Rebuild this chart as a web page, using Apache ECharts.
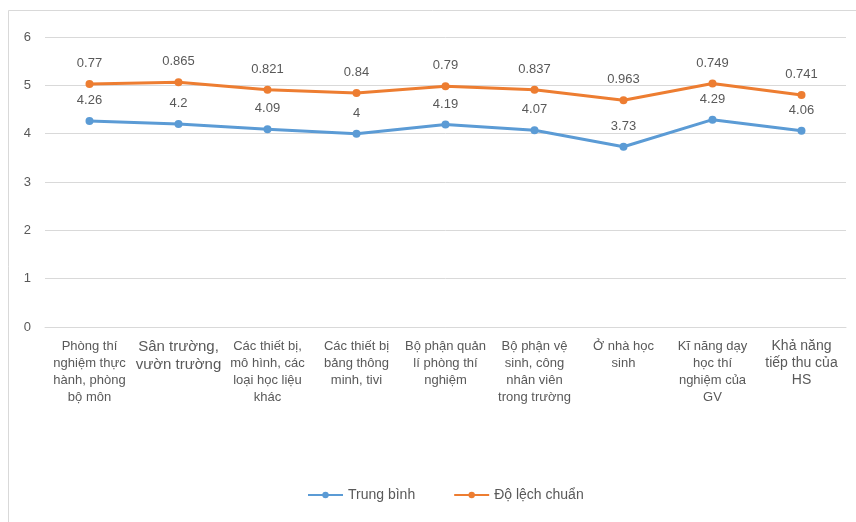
<!DOCTYPE html>
<html>
<head>
<meta charset="utf-8">
<script src="https://cdn.jsdelivr.net/npm/echarts@6/dist/echarts.min.js"></script>
<style>
  html, body { margin: 0; padding: 0; background: #fff; }
  #chart { width: 856px; height: 522px; }
</style>
</head>
<body>
<div id="chart"></div>
<script>
// Categories (with the line breaks used on the axis)
const categories = [
  'Phòng thí\nnghiệm thực\nhành, phòng\nbộ môn',
  'Sân trường,\nvườn trường',
  'Các thiết bị,\nmô hình, các\nloại học liệu\nkhác',
  'Các thiết bị\nbảng thông\nminh, tivi',
  'Bộ phận quản\nlí phòng thí\nnghiệm',
  'Bộ phận vệ\nsinh, công\nnhân viên\ntrong trường',
  'Ở nhà học\nsinh',
  'Kĩ năng dạy\nhọc thí\nnghiệm của\nGV',
  'Khả năng\ntiếp thu của\nHS'
];
// Mean scores
const trungBinh = [4.26, 4.2, 4.09, 4, 4.19, 4.07, 3.73, 4.29, 4.06];
// Standard deviations (stacked on top of the mean)
const doLechChuan = [0.77, 0.865, 0.821, 0.84, 0.79, 0.837, 0.963, 0.749, 0.741];
// Value-axis ticks
const yTicks = [0, 1, 2, 3, 4, 5, 6];

const FONT = '"Liberation Sans", Arial, sans-serif';
const TXT = '#595959';

const chart = echarts.init(document.getElementById('chart'), null, { renderer: 'canvas' });

const labelStyle = { show: true, position: 'top', distance: 10, color: TXT, fontSize: 13, fontFamily: FONT };

chart.setOption({
  backgroundColor: '#fff',
  animation: false,
  graphic: [{
    type: 'rect',
    shape: { x: 8.5, y: 10.5, width: 900, height: 600 },
    style: { fill: 'none', stroke: '#d9d9d9', lineWidth: 1 },
    silent: true
  }],
  grid: { left: 45, right: 10, top: 37, bottom: 195, containLabel: false },
  legend: {
    bottom: 15,
    left: 302,
    itemWidth: 35,
    itemHeight: 8,
    itemGap: 38,
    textStyle: { color: TXT, fontSize: 14, fontFamily: FONT },
    data: ['Trung bình', 'Độ lệch chuẩn']
  },
  xAxis: {
    type: 'category',
    data: categories,
    boundaryGap: true,
    axisLine: { show: true, lineStyle: { color: '#d9d9d9' } },
    axisTick: { show: false },
    axisLabel: {
      interval: 0,
      margin: 11,
      color: TXT,
      fontSize: 13,
      lineHeight: 17,
      fontFamily: FONT,
      align: 'center',
      formatter: function (v, i) {
        if (i === 1) return v.split('\n').map(s => '{big|' + s + '}').join('\n');
        if (i === 8) return v.split('\n').map(s => '{mid|' + s + '}').join('\n');
        return v;
      },
      rich: {
        big: { fontSize: 15, lineHeight: 18, color: TXT, fontFamily: FONT },
        mid: { fontSize: 14, lineHeight: 17, color: TXT, fontFamily: FONT }
      }
    }
  },
  yAxis: {
    type: 'value',
    min: yTicks[0],
    max: yTicks[yTicks.length - 1],
    interval: 1,
    axisLine: { show: false },
    axisTick: { show: false },
    axisLabel: { color: TXT, fontSize: 13, fontFamily: FONT, margin: 14 },
    splitLine: { lineStyle: { color: '#d9d9d9', width: 1 } }
  },
  series: [
    {
      name: 'Trung bình',
      type: 'line',
      stack: 'tong',
      data: trungBinh,
      symbol: 'circle',
      symbolSize: 8,
      itemStyle: { color: '#5B9BD5' },
      lineStyle: { color: '#5B9BD5', width: 3 },
      label: labelStyle
    },
    {
      name: 'Độ lệch chuẩn',
      type: 'line',
      stack: 'tong',
      data: doLechChuan,
      symbol: 'circle',
      symbolSize: 8,
      itemStyle: { color: '#ED7D31' },
      lineStyle: { color: '#ED7D31', width: 3 },
      label: labelStyle
    }
  ]
});
</script>
</body>
</html>
